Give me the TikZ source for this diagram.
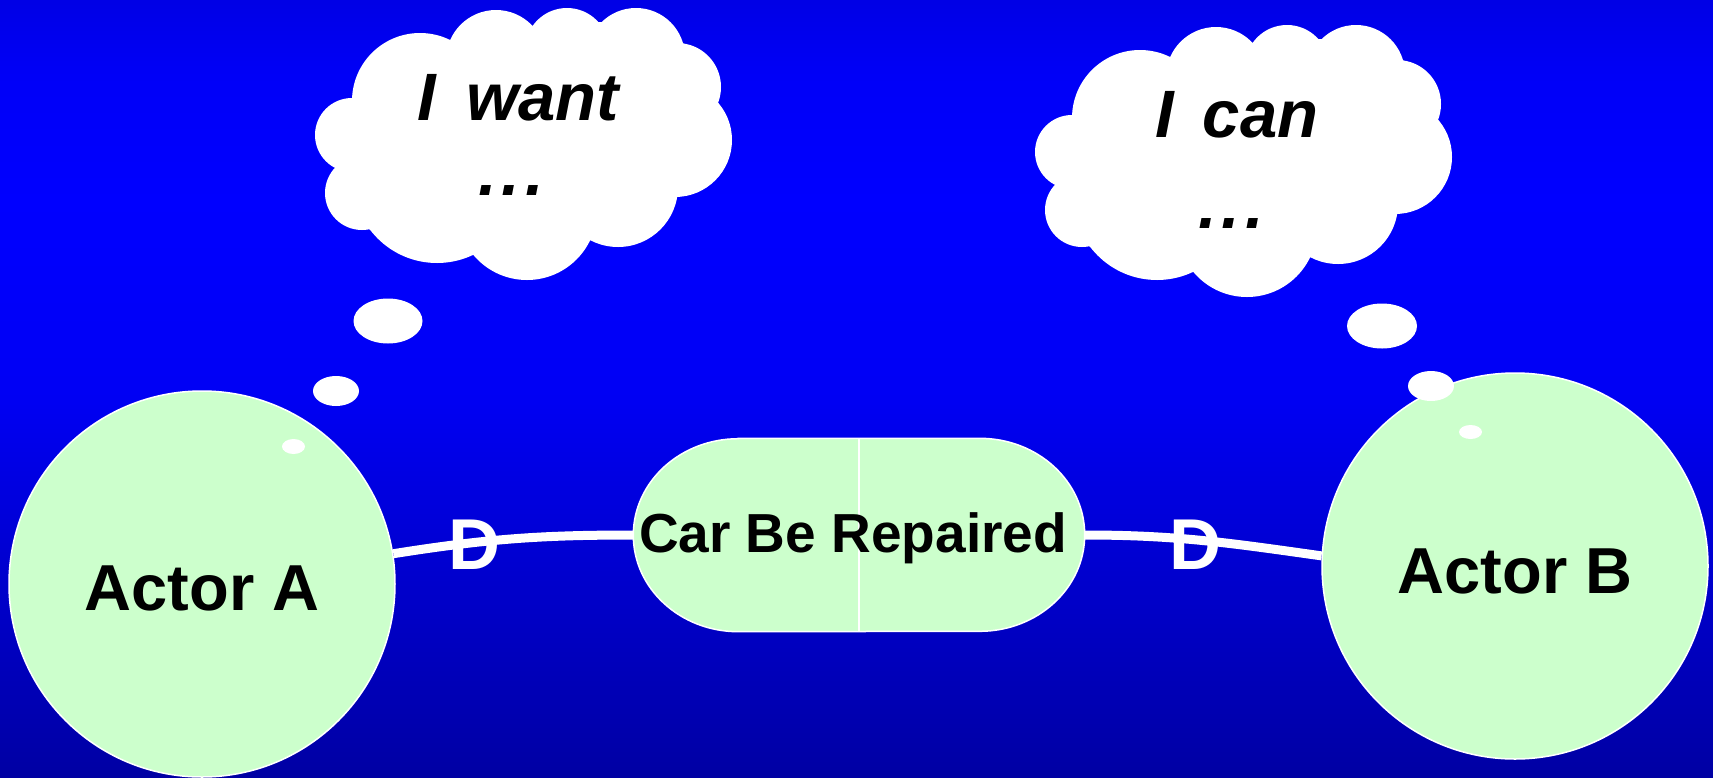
\documentclass[tikz,border=0pt]{standalone}
\usepackage{fontspec}
\setmainfont{Liberation Sans}
\usetikzlibrary{calc}
\definecolor{actorgreen}{RGB}{204,255,204}
\pgfdeclareverticalshading{bgshade}{100bp}{rgb(0bp)=(0,0,0.64); rgb(25bp)=(0,0,0.64); rgb(50bp)=(0,0,0.96); rgb(62bp)=(0,0,1); rgb(70bp)=(0,0,0.97); rgb(75bp)=(0,0,0.9); rgb(100bp)=(0,0,0.9)}
\tikzset{
  actor/.style={circle, fill=actorgreen, draw=white, line width=1.5pt, minimum size=386pt, inner sep=0pt},
  goalbox/.style={rectangle, draw=none, minimum width=451pt, minimum height=193pt, inner sep=0pt},
  goalfill/.style={fill=actorgreen, draw=white, line width=1.5pt},
  actortext/.style={font=\bfseries\fontsize{65}{78}\selectfont, anchor=base, text=black},
  goaltext/.style={font=\bfseries\fontsize{55}{66}\selectfont, anchor=base, text=black},
  thinktext/.style={font=\bfseries\itshape\fontsize{67}{80}\selectfont, anchor=base, text=black},
  bubble/.style={fill=white, draw=none},
  cloudfill/.style={fill=white, draw=none},
  dlink/.style={draw=white, line width=9pt},
  dmark/.style={font=\bfseries\fontsize{72}{86}\selectfont, text=white, inner sep=0pt},
}
\newcommand{\thinkcloud}{%
  \path[cloudfill] (353,98) -- (450,40) -- (533,26) -- (602,22) -- (683,43) -- (718,103)
     -- (677,197) -- (590,240) -- (473,255) -- (370,230) -- (335,168) -- cycle;
  \path[cloudfill]
     (420,101) circle[radius=68pt]
     (496,60) circle[radius=50pt]
     (567,50) circle[radius=42pt]
     (636,57) circle[radius=49pt]
     (677,87) circle[radius=44pt]
     (675,140) circle[radius=57pt]
     (618,187) circle[radius=60pt]
     (527,210) circle[radius=70pt]
     (437,179) circle[radius=84pt]
     (362,193) circle[radius=37pt]
     (352,135) circle[radius=37pt];
}
\newcommand{\spaceddots}{.\kern5pt.\kern5pt.}
\begin{document}
\begin{tikzpicture}[x=1pt, y=-1pt]
  \useasboundingbox (0,0) rectangle (1713,777);
  \shade[shading=bgshade] (0,0) rectangle (1713,777);

  % thought clouds
  \thinkcloud
  \begin{scope}[shift={(720,17)}]
    \thinkcloud
  \end{scope}
  \node[thinktext] (wanttxt) at (518,120) {I\kern12pt{} want};
  \node[thinktext] (wantdots) at (511,195) {\spaceddots};
  \node[thinktext] (cantxt) at (1237,137) {I\kern10pt{} can};
  \node[thinktext] (candots) at (1231,228) {\spaceddots};

  % actors
  \node[actor] (actorA) at (202,584) {};
  \node[actor] (actorB) at (1515,566) {};
  \node[actortext] (labelA) at (202,610) {Actor A};
  \node[actortext] (labelB) at (1515,593) {Actor B};

  % goal
  \node[goalbox] (goal) at (859,535) {};
  \path[goalfill] ([xshift=105pt]goal.north west) -- ([xshift=-105pt]goal.north east)
     arc[start angle=90, end angle=-90, x radius=105pt, y radius=96.5pt]
     -- ([xshift=105pt]goal.south west)
     arc[start angle=270, end angle=90, x radius=105pt, y radius=96.5pt] -- cycle;
  \draw[white, line width=1.5pt] (goal.north) -- (goal.south);
  \node[goaltext] (goallabel) at (853,552) {Car Be Repaired};

  % thought bubbles
  \path[bubble] (388,321) ellipse[x radius=34.5pt, y radius=22.5pt];
  \path[bubble] (336,391) ellipse[x radius=23pt, y radius=15pt];
  \path[bubble] (293.5,446.5) ellipse[x radius=11.5pt, y radius=7.5pt];
  \path[bubble] (1382,326) ellipse[x radius=35pt, y radius=22.5pt];
  \path[bubble] (1431,386) ellipse[x radius=23pt, y radius=15pt];
  \path[bubble] (1470.5,432) ellipse[x radius=11.5pt, y radius=7pt];

  % dependency links
  \draw[dlink] (actorA.9.5) to[out=9, in=180] (goal.west);
  \draw[dlink] (goal.east) to[out=0, in=172] (actorB.177);
  \node[dmark] (DA) at (474,545) {D};
  \node[dmark] (DB) at (1195,545) {D};
\end{tikzpicture}
\end{document}
